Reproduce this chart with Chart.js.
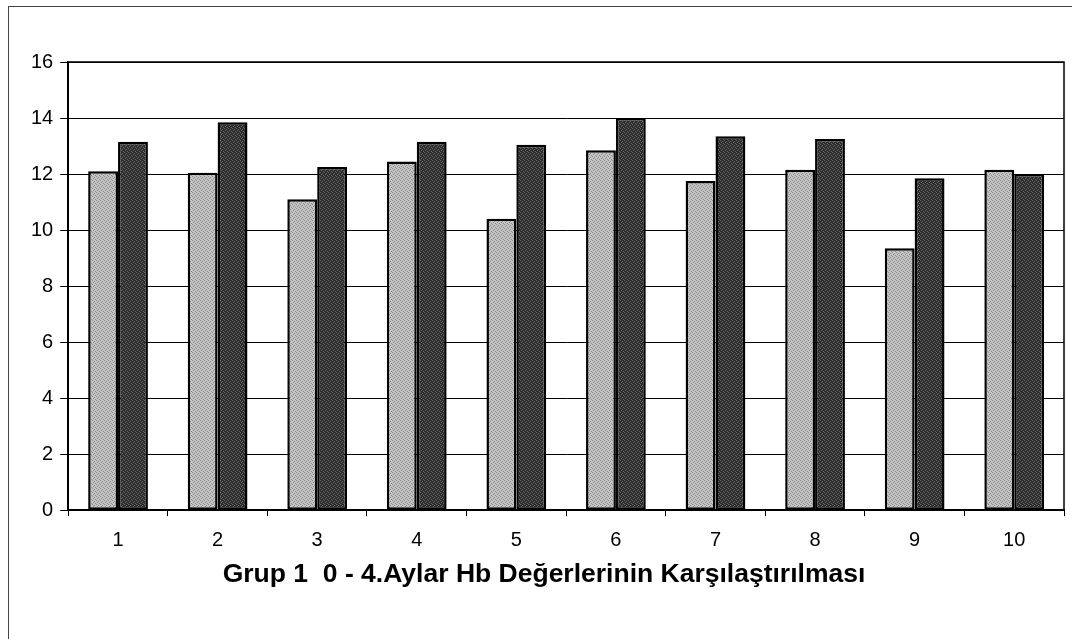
<!DOCTYPE html>
<html>
<head>
<meta charset="utf-8">
<script src="https://cdn.jsdelivr.net/npm/chart.js@4"></script>
<style>
  html, body { margin: 0; padding: 0; background: #fff; overflow: hidden; }
  #frame { position: absolute; left: 8px; top: 6px; width: 1100px; height: 700px; border: 1px solid #444; }
  #wrap { position: absolute; left: 0; top: 0; width: 1072px; height: 639px; }
</style>
</head>
<body>
<div id="frame"></div>
<div id="wrap"><canvas id="chart" width="1072" height="639"></canvas></div>
<script>
// kategoriler (hasta no) ve Hb değerleri
const categories = ['1', '2', '3', '4', '5', '6', '7', '8', '9', '10'];
const month0 = [12.1, 12.05, 11.1, 12.45, 10.4, 12.85, 11.75, 12.15, 9.35, 12.15];
const month4 = [13.15, 13.85, 12.25, 13.15, 13.05, 14.0, 13.35, 13.25, 11.85, 12.0];
const yTicks = [0, 2, 4, 6, 8, 10, 12, 14, 16];

const FONT = 'Liberation Sans, Arial, sans-serif';

// benekli dolgu deseni (taranmış grafik görünümü için)
function speckle(base, dot) {
    const c = document.createElement('canvas');
    c.width = 4;
    c.height = 4;
    const g = c.getContext('2d');
    g.fillStyle = base;
    g.fillRect(0, 0, 4, 4);
    g.fillStyle = dot;
    [[0, 0], [2, 1], [1, 2], [3, 3]].forEach(([x, y]) => g.fillRect(x, y, 1, 1));
    return g.createPattern(c, 'repeat');
}

// çizim alanının çerçevesi
const plotFrame = {
    id: 'plotFrame',
    afterDraw(chart) {
        const { ctx, chartArea: a } = chart;
        ctx.save();
        ctx.strokeStyle = '#000';
        ctx.lineWidth = 1.5;
        ctx.strokeRect(a.left, a.top, a.right - a.left, a.bottom - a.top);
        ctx.restore();
    }
};

new Chart(document.getElementById('chart'), {
    type: 'bar',
    data: {
        labels: categories,
        datasets: [
            {
                label: '0. ay',
                data: month0,
                backgroundColor: speckle('#c4c4c4', '#8a8a8a'),
                borderColor: '#000',
                borderWidth: 2.5,
                borderSkipped: false
            },
            {
                label: '4. ay',
                data: month4,
                backgroundColor: speckle('#2c2c2c', '#6a6a6a'),
                borderColor: '#000',
                borderWidth: 2.5,
                borderSkipped: false
            }
        ]
    },
    options: {
        responsive: false,
        animation: false,
        layout: { padding: { left: 24, right: 8, top: 62, bottom: 48 } },
        plugins: {
            legend: { display: false },
            tooltip: { enabled: false },
            title: {
                display: true,
                position: 'bottom',
                text: 'Grup 1  0 - 4.Aylar Hb Değerlerinin Karşılaştırılması',
                color: '#000',
                font: { family: FONT, size: 26.5, weight: 'bold' },
                padding: { top: -5, bottom: 0 }
            }
        },
        datasets: {
            bar: { categoryPercentage: 0.6, barPercentage: 1.0 }
        },
        scales: {
            x: {
                grid: {
                    display: true,
                    drawOnChartArea: false,
                    drawTicks: true,
                    tickLength: 6,
                    color: '#000',
                    offset: true
                },
                border: { color: '#000', width: 1.5 },
                ticks: {
                    color: '#000',
                    font: { family: FONT, size: 20 },
                    padding: 12
                }
            },
            y: {
                min: 0,
                max: 16,
                afterBuildTicks(axis) {
                    axis.ticks = yTicks.map(v => ({ value: v }));
                },
                grid: {
                    color: '#000',
                    lineWidth: 1,
                    tickLength: 8
                },
                border: { color: '#000', width: 1.5 },
                ticks: {
                    color: '#000',
                    font: { family: FONT, size: 20 },
                    padding: 7
                }
            }
        }
    },
    plugins: [plotFrame]
});
</script>
</body>
</html>
